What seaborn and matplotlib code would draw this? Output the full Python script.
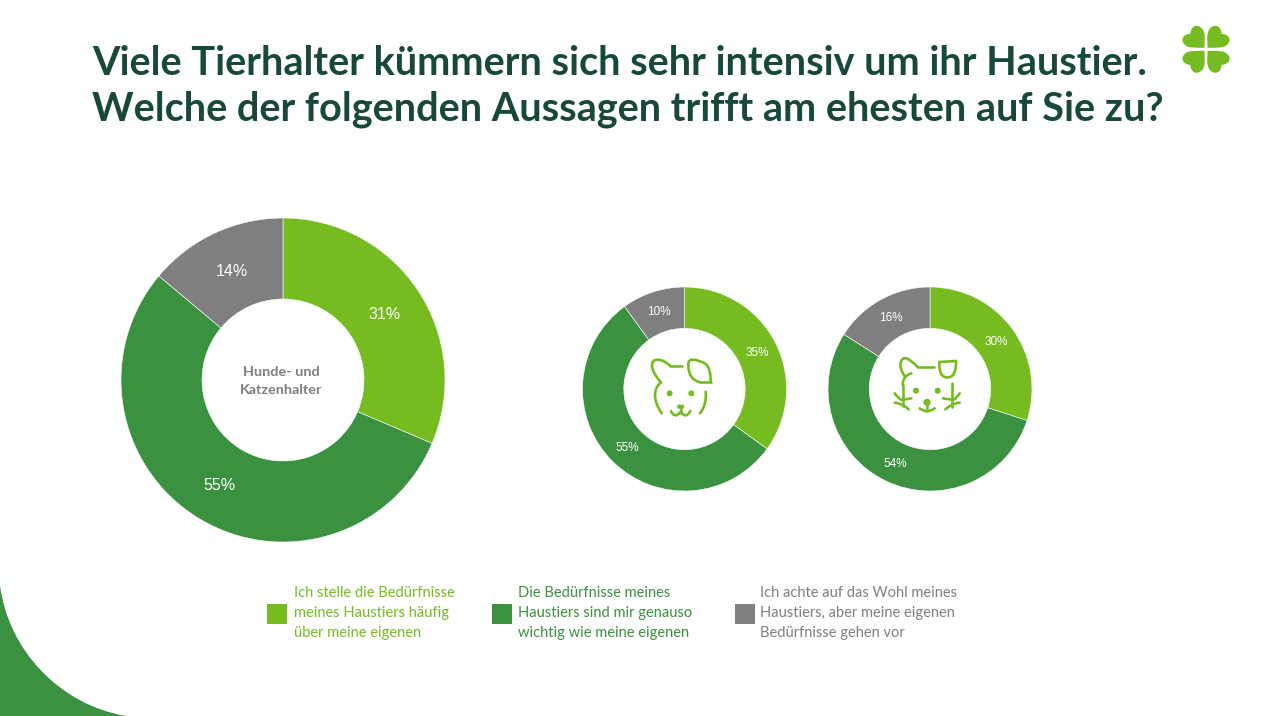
import matplotlib
matplotlib.use("Agg")
import matplotlib.pyplot as plt
import seaborn as sns
from matplotlib.patches import Circle, PathPatch, Rectangle
from matplotlib.path import Path

W, H = 1277, 716
categories = [
    "Ich stelle die Bedürfnisse\nmeines Haustiers häufig\nüber meine eigenen",
    "Die Bedürfnisse meines\nHaustiers sind mir genauso\nwichtig wie meine eigenen",
    "Ich achte auf das Wohl meines\nHaustiers, aber meine eigenen\nBedürfnisse gehen vor",
]
all_owners = [31.4, 54.7, 13.9]
dog_owners = [35, 55, 10]
cat_owners = [30, 54, 16]
title_lines = ["Viele Tierhalter kümmern sich sehr intensiv um ihr Haustier.",
               "Welche der folgenden Aussagen trifft am ehesten auf Sie zu?"]
center_label = "Hunde- und\nKatzenhalter"
palette = ["#76BC21", "#3A9140", "#7F7F7F"]
TITLE = "#17483A"

sns.set_theme(style="white", rc={"font.family": ["Lato", "DejaVu Sans"]})
sns.set_palette(palette)
colors = sns.color_palette(palette)

fig = plt.figure(figsize=(W / 100, H / 100), dpi=100, facecolor="white")
bg = fig.add_axes([0, 0, 1, 1], zorder=0)
bg.set_xlim(0, W); bg.set_ylim(H, 0); bg.axis("off")


def donut(values, cx, cy, r, hole, size, pctd, dy=0):
    ax = fig.add_axes([(cx - r) / W, 1 - (cy + r) / H, 2 * r / W, 2 * r / H], zorder=1)
    _, _, autotexts = ax.pie(
        values, colors=colors, startangle=90, counterclock=False, radius=1,
        autopct="%.0f%%", pctdistance=pctd,
        wedgeprops=dict(width=1 - hole, edgecolor="white", linewidth=0.4),
        textprops=dict(color="white", fontsize=size, family="Liberation Sans"),
    )
    for t in autotexts:
        x, y = t.get_position()
        t.set_position((x, y - dy / r))
    ax.set_xlim(-1, 1); ax.set_ylim(-1, 1)
    ax.set_aspect("equal"); ax.axis("off")
    return ax


donut(all_owners, 283, 380, 162, 0.5, 11.5, 0.75, dy=1.5)
donut(dog_owners, 684.5, 389, 102, 0.595, 8.5, 0.80, dy=1)
donut(cat_owners, 930, 389, 102, 0.595, 8.5, 0.80, dy=1)

ov = fig.add_axes([0, 0, 1, 1], zorder=2)
ov.set_xlim(0, W); ov.set_ylim(H, 0); ov.axis("off"); ov.patch.set_alpha(0)

# title
for line, y in zip(title_lines, [63.5, 109.5]):
    ov.text(92, y, line, fontsize=28.55, fontweight="bold", color=TITLE, ha="left", va="center")

ov.text(281.5, 380.5, center_label, fontsize=10.4, fontweight="bold", color="#7F7F7F",
        ha="center", va="center", linespacing=1.6)

# legend
for label, col, sx, tx in zip(categories, palette, [267, 492, 735], [294, 518, 760]):
    ov.add_patch(Rectangle((sx, 603.5), 20, 20, fc=col, ec="none"))
    ov.text(tx, 613, label, fontsize=10.55, color=col, ha="left", va="center", linespacing=1.57)

# corner shape
verts = [(0, 585), (8, 650), (60, 705), (126, 716), (0, 716), (0, 585)]
codes = [Path.MOVETO, Path.CURVE4, Path.CURVE4, Path.CURVE4, Path.LINETO, Path.CLOSEPOLY]
bg.add_patch(PathPatch(Path(verts, codes), fc=palette[1], ec="none"))


# clover: four hearts, each with its tip at the centre and its notch on the outer diagonal
def heart(sx, sy, ox, oy):
    v = [(0, 0), (0, -5), (1, -10), (0, -14), (-1, -20), (-5, -22), (-8, -22),
         (-11, -22), (-14, -19), (-14, -14), (-19, -14), (-22, -11), (-22, -8),
         (-22, -4), (-18, -1), (-14, -0.5), (-9, 0), (-4, 0), (0, 0)]
    c = [Path.MOVETO] + [Path.CURVE4] * 18
    v = [(ox + sx * x, oy + sy * y) for x, y in v]
    ov.add_patch(PathPatch(Path(v, c), fc=palette[0], ec="none"))


for sx, sy, ox, oy in [(1, 1, 1204.4, 47.8), (-1, 1, 1207.6, 47.8),
                       (1, -1, 1204.4, 50.8), (-1, -1, 1207.6, 50.8)]:
    heart(sx, sy, ox, oy)


def smooth(origin, points, lw=1.9):
    """Line through the crop-space points (3x zoom), quadratic between midpoints."""
    pts = [(origin[0] + p[0] / 3, origin[1] + p[1] / 3) for p in points]
    v, c = [pts[0]], [Path.MOVETO]
    if len(pts) == 2:
        v.append(pts[1]); c.append(Path.LINETO)
    else:
        for i in range(1, len(pts) - 1):
            a = pts[i]
            if i == len(pts) - 2:
                b = pts[i + 1]
            else:
                b = ((pts[i][0] + pts[i + 1][0]) / 2, (pts[i][1] + pts[i + 1][1]) / 2)
            v += [a, b]; c += [Path.CURVE3, Path.CURVE3]
    ov.add_patch(PathPatch(Path(v, c), fc="none", ec=palette[0], lw=lw,
                           capstyle="round", joinstyle="round"))


def dot(origin, p, r=3.0):
    ov.add_patch(Circle((origin[0] + p[0] / 3, origin[1] + p[1] / 3), r, fc=palette[0], ec="none"))


# dog
D = (645, 350)
smooth(D, [(48, 97), (22, 68), (20, 29), (55, 29), (75, 47)])
smooth(D, [(75, 47), (112, 47)])
smooth(D, [(130, 48), (128, 28), (160, 30), (198, 50), (197, 97)])
smooth(D, [(197, 97), (165, 97)])
smooth(D, [(165, 97), (130, 88), (130, 48)])
smooth(D, [(48, 97), (30, 112), (30, 160), (50, 190)])
smooth(D, [(182, 125), (186, 165), (165, 190)])
dot(D, (74, 130)); dot(D, (139, 130))
dot(D, (103, 170), 2.2); dot(D, (111, 170), 2.2)
smooth(D, [(107, 172), (107, 186)])
smooth(D, [(78, 183), (88, 208), (107, 186)])
smooth(D, [(107, 186), (124, 208), (136, 183)])

# cat
C = (892, 350)
smooth(C, [(38, 78), (22, 55), (30, 22), (55, 28), (78, 52)])
smooth(C, [(78, 52), (125, 52)])
smooth(C, [(58, 70), (32, 78), (32, 105)])
smooth(C, [(32, 105), (32, 168)])
smooth(C, [(142, 36), (192, 33)])
smooth(C, [(192, 33), (194, 83), (165, 82)])
smooth(C, [(165, 82), (140, 82), (142, 36)])
smooth(C, [(180, 100), (180, 172)])
smooth(C, [(8, 130), (22, 148), (32, 150), (58, 145)])
smooth(C, [(8, 158), (30, 160), (50, 178)])
smooth(C, [(203, 130), (190, 148), (180, 150), (153, 145)])
smooth(C, [(203, 158), (180, 160), (160, 178)])
dot(C, (72, 122)); dot(C, (137, 122)); dot(C, (105, 157), 3.6)
smooth(C, [(105, 160), (105, 182)])
smooth(C, [(83, 175), (105, 192), (128, 175)])

fig.savefig("out.png", dpi=100, facecolor="white")
